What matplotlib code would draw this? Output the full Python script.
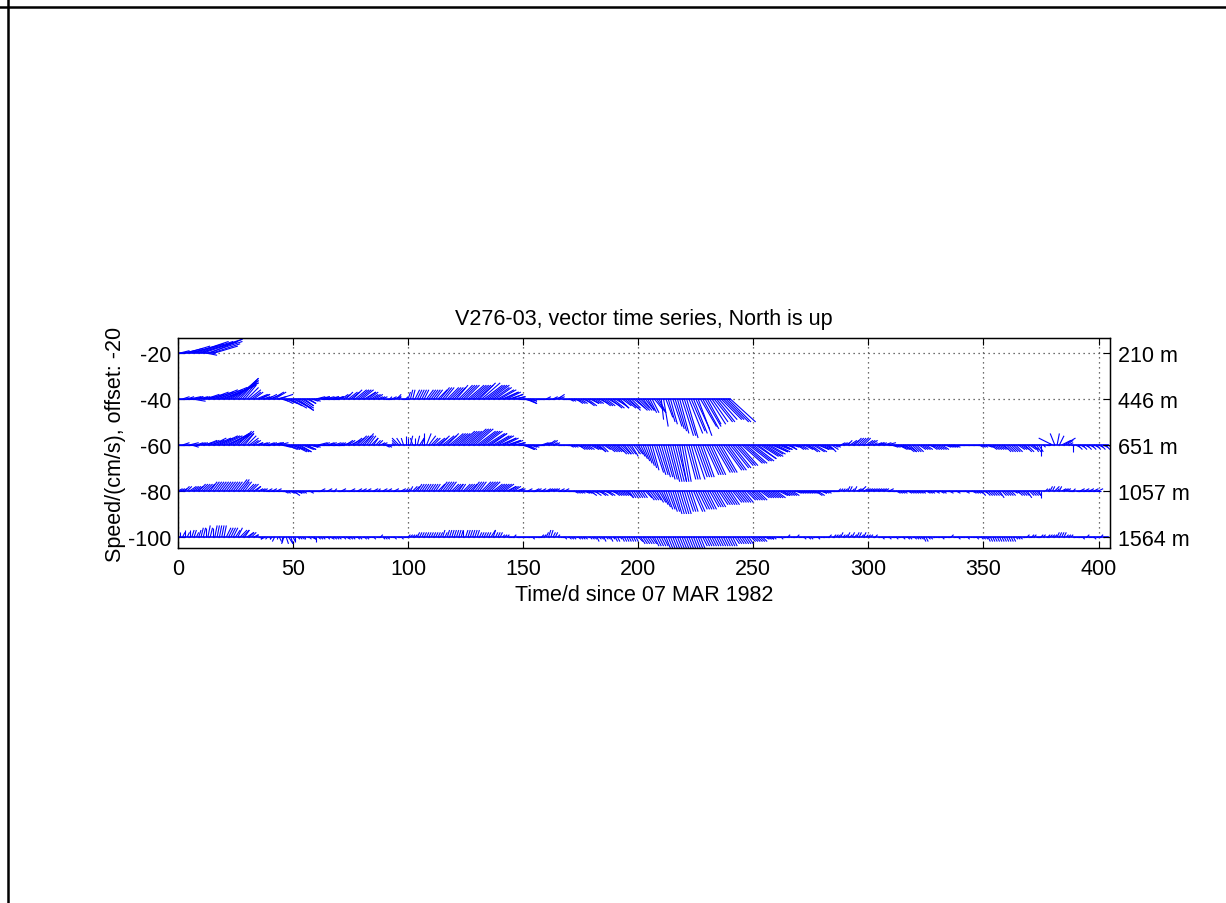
import numpy as np
import matplotlib
matplotlib.use('Agg')
import matplotlib.pyplot as plt
from matplotlib.collections import LineCollection
from matplotlib.lines import Line2D

plt.rcParams['font.family'] = ['Liberation Sans', 'DejaVu Sans']
plt.rcParams['axes.unicode_minus'] = False

# mooring V276-03, daily current vectors (cm/s), east (u) and north (v)
depths = ['210 m', '446 m', '651 m', '1057 m', '1564 m']
offsets = [-20, -40, -60, -80, -100]
xticks = [0, 50, 100, 150, 200, 250, 300, 350, 400]

u_210 = [2, 4, 6, 8, 10, 12, 14, 15, 16, 17,
         18, 15, 5, 15, 14, 12, 10]
v_210 = [0, 1, 1, 2, 3, 3, 4, 5, 5, 5,
         6, 5, -1, 5, 6, 4, 3]

u_446 = [2, 3, 3, 4, 3, 5, 6, 4, 3, 4,
         4, 5, 6, 7, 8, 9, 10, 11, 12, 13,
         14, 14, 13, 12, 11, 10, 9, 7, 6, 5,
         5, 5, 4, 4, 5, 5, 4, 3, 3, 4,
         5, 5, 5, 4, 6, 3, 4, 5, 6, 7,
         8, 8, 7, 6, 5, 4, 4, 3, 3, 3,
         4, 5, 4, 3, 4, 5, 4, 3, 4, 3,
         2, 3, 3, 3, 4, 4, 4, 5, 5, 5,
         5, 5, 4, 4, 3, 3, 3, 2, 2, 2,
         1, 2, 1, 2, 3, 2, 1, 1, 2, 1,
         1, 1, 1, 2, 2, 2, 2, 2, 3, 3,
         3, 3, 3, 4, 4, 4, 4, 5, 5, 5,
         5, 5, 6, 6, 6, 6, 7, 7, 7, 7,
         7, 7, 8, 8, 8, 8, 8, 7, 7, 7,
         7, 7, 6, 6, 6, 5, 5, 4, 4, 4,
         5, 5, 4, 3, 2, 2, 2, 2, 1, 2,
         2, 1, 2, 2, 3, 3, 2, 2, 1, 2,
         2, 2, 3, 3, 3, 3, 4, 4, 4, 4,
         3, 3, 3, 4, 4, 4, 4, 5, 5, 5,
         5, 5, 4, 4, 5, 5, 5, 4, 5, 5,
         5, 4, 4, 4, 3, 3, 3, 4, 4, 3,
         1, 2, 3, 3, 3, 4, 4, 4, 4, 5,
         5, 5, 6, 6, 6, 6, 6, 7, 7, 7,
         6, 7, 7, 8, 8, 8, 9, 9, 10, 10, 11]
v_446 = [0, 0, 1, 0, 1, 1, -1, 1, 1, 1,
         1, 1, 2, 2, 3, 3, 4, 4, 5, 5,
         6, 7, 7, 8, 8, 9, 9, 8, 7, 6,
         5, 4, 3, 3, 2, 2, 2, 1, 1, 2,
         2, 3, 3, 1, 2, -1, -2, -2, -3, -4,
         -4, -5, -5, -4, -3, -3, -2, -2, -1, -1,
         1, 1, 0, 1, 1, 1, 0, 1, 1, 1,
         1, 2, 2, 3, 3, 3, 4, 4, 4, 4,
         4, 3, 3, 3, 2, 2, 2, 1, 1, 1,
         0, 0, 1, 1, 1, 2, 1, 0, 0, 1,
         3, 4, 4, 4, 4, 4, 4, 4, 4, 4,
         4, 4, 4, 4, 5, 5, 5, 5, 5, 5,
         5, 6, 6, 6, 6, 6, 6, 6, 6, 6,
         6, 7, 7, 6, 6, 6, 6, 5, 5, 4,
         4, 3, 3, 3, 2, 2, 1, 1, 0, 0,
         -1, -2, -2, -1, -1, 0, 0, 0, 0, 0,
         1, 0, 0, 1, 1, 2, 1, 0, 0, 0,
         -1, -1, -1, -2, -2, -2, -2, -3, -3, -2,
         -2, -2, -2, -2, -3, -3, -3, -3, -4, -4,
         -3, -4, -4, -3, -4, -4, -5, -4, -4, -5,
         -5, -4, -5, -5, -5, -6, -6, -5, -6, -6,
         -9, -12, -8, -10, -11, -12, -13, -14, -15, -16,
         -16, -17, -15, -14, -15, -13, -16, -12, -13, -12,
         -11, -11, -10, -10, -10, -9, -9, -9, -10, -10, -10]

u_651 = [2, 3, 3, 2, 3, 4, 3, 2, 3, 3,
         3, 4, 5, 5, 6, 6, 7, 7, 8, 8,
         8, 9, 9, 8, 8, 7, 6, 6, 5, 4,
         4, 4, 3, 3, 3, 2, 3, 3, 2, 3,
         3, 4, 4, 3, 4, 4, 4, 5, 5, 6,
         6, 6, 6, 5, 5, 5, 4, 4, 3, 3,
         3, 4, 3, 3, 4, 3, 3, 4, 3, 3,
         2, 2, 3, 3, 3, 4, 4, 4, 4, 4,
         4, 4, 3, 3, 3, 2, 2, 2, 2, 2,
         2, 2, 1, 0, -1, -2, -3, -2, -1, 0,
         0, 1, -1, 0, 1, 2, 1, 0, 2, 3,
         3, 3, 4, 4, 4, 5, 5, 5, 6, 6,
         6, 6, 7, 7, 7, 7, 8, 8, 8, 8,
         8, 8, 8, 8, 8, 8, 7, 7, 7, 7,
         7, 6, 6, 6, 5, 5, 5, 4, 4, 5,
         5, 4, 4, 3, 3, 2, 2, 2, 3, 3,
         3, 3, 3, 2, 2, 2, 1, 1, 2, 2,
         2, 2, 2, 3, 3, 3, 3, 3, 3, 4,
         4, 4, 4, 3, 3, 3, 4, 4, 4, 4,
         4, 4, 4, 4, 3, 3, 3, 3, 3, 3,
         3, 3, 3, 3, 3, 3, 3, 4, 4, 4,
         4, 4, 4, 4, 4, 4, 4, 4, 3, 3,
         3, 4, 4, 4, 5, 5, 5, 5, 5, 6,
         6, 6, 6, 7, 7, 7, 7, 8, 8, 8,
         8, 8, 8, 8, 8, 9, 9, 9, 9, 9,
         9, 9, 8, 8, 8, 8, 7, 7, 7, 6,
         6, 5, 5, 4, 4, 4, 3, 3, 3, 3,
         3, 3, 4, 4, 4, 4, 5, 5, 5, 4,
         4, 4, 3, 3, 3, 2, 2, 1, 2, 2,
         2, 2, 3, 3, 3, 3, 3, 3, 3, 3,
         3, 3, 2, 3, 3, 2, 2, 3, 4, 3,
         3, 3, 4, 4, 4, 4, 4, 4, 3, 3,
         3, 3, 3, 3, 3, 3, 3, 3, 3, 3,
         3, 3, 3, 3, 3, 3, 3, 3, 2, 2,
         2, 2, 2, 2, 2, 2, 2, 2, 2, 2,
         2, 3, 3, 3, 3, 3, 3, 3, 3, 3,
         3, 3, 3, 3, 3, 3, 3, 3, 3, 3,
         3, 3, 2, 2, 2, 0, 1, 1, 1, 0,
         -6, -2, 1, 2, 4, 5, 3, 2, 1, 0,
         2, 2, 2, 2, 2, 2, 2, 2, 2, 2,
         2, 2, 2, 2, 2]
v_651 = [0, 0, 1, 0, 0, 1, -1, 0, 1, 1,
         1, 1, 2, 2, 2, 3, 3, 3, 4, 4,
         4, 4, 5, 5, 5, 5, 6, 6, 5, 5,
         4, 3, 2, 2, 1, 1, 1, 1, 0, 1,
         1, 1, 1, 1, 1, -1, -1, -2, -2, -2,
         -3, -3, -3, -3, -2, -2, -2, -1, -1, -1,
         0, 1, 0, 1, 0, 1, 1, 0, 1, 0,
         1, 1, 1, 2, 2, 2, 3, 3, 4, 4,
         4, 5, 4, 4, 3, 3, 2, 2, 1, 1,
         -1, -1, 0, 0, 1, 2, 3, 3, 3, 4,
         3, 4, 3, 3, 4, 3, 3, 5, 5, 4,
         3, 3, 3, 3, 4, 4, 4, 5, 5, 5,
         5, 5, 6, 6, 6, 6, 7, 7, 7, 7,
         6, 6, 6, 6, 5, 5, 5, 4, 4, 4,
         3, 3, 3, 2, 2, 2, 1, 1, 0, -1,
         -2, -2, -2, -1, -1, 0, 0, 0, 1, 1,
         1, 2, 2, 1, 1, 0, 0, 0, 0, 0,
         -1, -1, -1, -1, -2, -2, -2, -2, -2, -2,
         -2, -2, -3, -3, -3, -2, -3, -3, -3, -3,
         -3, -4, -4, -4, -4, -4, -4, -5, -4, -4,
         -5, -6, -7, -8, -9, -10, -11, -12, -13, -13,
         -14, -14, -15, -15, -16, -16, -16, -16, -16, -16,
         -16, -15, -15, -15, -15, -14, -14, -14, -14, -13,
         -13, -13, -13, -12, -12, -12, -12, -11, -11, -11,
         -10, -10, -9, -9, -9, -8, -8, -8, -7, -7,
         -7, -6, -6, -5, -5, -5, -4, -4, -3, -3,
         -3, -2, -2, -2, -1, -2, -2, -1, -1, -2,
         -2, -2, -2, -2, -3, -3, -3, -3, -2, -2,
         -2, -2, -2, -3, -2, -1, -1, 0, 1, 1,
         1, 2, 2, 2, 3, 3, 3, 3, 3, 2,
         2, 2, 1, 1, 1, 1, 1, 1, 1, 0,
         -1, -1, -1, -2, -2, -2, -3, -3, -3, -3,
         -3, -3, -2, -2, -2, -2, -1, -2, -2, -2,
         -2, -2, -2, -1, -1, -1, -1, -1, 0, 0,
         0, 0, 0, 0, 0, 0, 0, 0, -1, -1,
         -1, -1, -1, -2, -2, -2, -2, -2, -2, -3,
         -3, -3, -3, -3, -3, -2, -2, -2, -3, -3,
         -2, -2, -3, -3, -3, -5, -1, 0, 0, 1,
         3, 5, 5, 4, 2, 3, 2, 1, 0, -3,
         -1, -2, -1, -2, -1, -2, -1, -2, -1, -2,
         -1, -2, -1, -2, -1]

u_1057 = [2, 2, 2, 2, 2, 3, 3, 3, 3, 3,
          3, 3, 3, 3, 3, 3, 3, 3, 3, 3,
          3, 3, 3, 3, 3, 3, 4, 4, 3, 3,
          3, 3, 3, 3, 2, 2, 2, 2, 2, 2,
          2, 2, 2, 2, 2, 2, 2, 2, 3, 3,
          3, 3, 2, 2, 2, 2, 2, 2, 2, 2,
          2, 2, 2, 1, 1, 2, 2, 1, 1, 2,
          2, 2, 1, 1, 2, 2, 1, 2, 2, 2,
          2, 2, 2, 1, 2, 2, 2, 1, 2, 2,
          2, 2, 1, 2, 2, 1, 2, 2, 2, 1,
          1, 1, 2, 2, 2, 2, 2, 2, 2, 2,
          2, 2, 2, 3, 3, 3, 3, 3, 3, 3,
          3, 3, 2, 2, 3, 3, 3, 3, 3, 3,
          3, 3, 4, 4, 4, 4, 4, 4, 4, 4,
          4, 4, 4, 4, 3, 3, 3, 3, 2, 2,
          2, 2, 2, 2, 2, 2, 2, 2, 2, 2,
          2, 2, 2, 2, 2, 2, 2, 2, 2, 2,
          2, 2, 2, 2, 2, 2, 3, 3, 3, 3,
          3, 3, 3, 3, 3, 3, 3, 3, 3, 3,
          3, 3, 3, 3, 3, 3, 2, 2, 2, 2,
          2, 2, 2, 3, 3, 3, 3, 3, 3, 3,
          3, 3, 3, 3, 3, 3, 3, 3, 3, 3,
          3, 3, 3, 3, 4, 4, 4, 4, 4, 4,
          4, 4, 4, 4, 4, 4, 4, 4, 4, 4,
          4, 4, 4, 4, 4, 4, 4, 4, 4, 4,
          4, 4, 4, 4, 4, 4, 4, 4, 4, 4,
          4, 4, 4, 3, 3, 3, 3, 3, 3, 3,
          3, 3, 3, 3, 3, 3, 3, 3, 3, 3,
          2, 2, 2, 2, 2, 2, 1, 1, 1, 1,
          1, 1, 1, 1, 1, 2, 2, 2, 2, 2,
          2, 2, 2, 2, 2, 2, 2, 2, 2, 2,
          2, 2, 2, 2, 2, 2, 2, 2, 2, 2,
          2, 2, 2, 2, 2, 2, 2, 2, 2, 2,
          2, 2, 2, 2, 2, 2, 2, 2, 2, 2,
          2, 2, 2, 2, 2, 2, 2, 2, 2, 2,
          2, 2, 2, 2, 2, 2, 2, 2, 2, 2,
          2, 2, 2, 2, 2, 2, 2, 2, 2, 2,
          2, 2, 2, 2, 1, 0, 0, 1, 1, 1,
          1, 2, 1, 1, 2, 2, 2, 2, 1, 1,
          2, 2, 2, 2, 2, 2, 2, 2, 2, 2,
          2]
v_1057 = [1, 1, 1, 2, 2, 2, 2, 2, 2, 3,
          3, 3, 3, 3, 4, 4, 4, 4, 4, 4,
          4, 4, 4, 4, 4, 4, 5, 5, 4, 4,
          3, 3, 3, 2, 2, 1, 1, 1, 0, 1,
          0, 1, 0, 1, 0, 0, -1, -1, -1, -1,
          -2, -1, -1, -1, -1, 0, 0, -1, 0, 0,
          0, 0, 1, 0, 0, 1, 0, 0, 1, 0,
          0, 1, 0, 0, 0, 1, 0, 0, 1, 0,
          1, 0, 1, 0, 0, 1, 0, 1, 0, 1,
          0, 1, 0, 0, 1, 0, 0, 1, 0, 1,
          1, 2, 2, 2, 3, 3, 3, 3, 3, 3,
          3, 3, 3, 3, 4, 4, 4, 4, 4, 3,
          3, 3, 3, 3, 3, 3, 3, 3, 4, 4,
          4, 4, 4, 4, 4, 4, 4, 3, 3, 3,
          3, 3, 3, 2, 2, 2, 2, 1, 1, 1,
          0, 0, 1, 0, 0, 1, 1, 0, 1, 0,
          1, 1, 1, 1, 1, 0, 1, 0, 1, 0,
          0, 0, -1, -1, -1, -1, -1, -1, -1, -2,
          -1, -2, -1, -2, -2, -1, -2, -2, -1, -2,
          -2, -2, -2, -2, -2, -3, -3, -3, -3, -3,
          -3, -3, -3, -3, -4, -4, -4, -4, -5, -5,
          -6, -7, -8, -8, -9, -9, -10, -10, -10, -10,
          -10, -9, -9, -9, -9, -9, -8, -8, -8, -8,
          -8, -7, -7, -7, -7, -6, -6, -6, -6, -6,
          -6, -5, -5, -5, -5, -5, -5, -4, -4, -4,
          -4, -4, -4, -3, -3, -3, -3, -3, -3, -3,
          -3, -2, -2, -2, -2, -2, -2, -2, -1, -1,
          -1, -1, -1, -1, -1, -1, -1, -2, -2, -1,
          -1, -1, -1, 0, 0, 0, 0, 1, 1, 1,
          1, 2, 2, 1, 2, 1, 1, 2, 1, 1,
          1, 1, 1, 1, 1, 1, 1, 1, 0, 1,
          0, 0, -1, -1, -1, -1, 0, -1, -1, -1,
          -1, -1, -1, -1, 0, -1, -1, -1, 0, -1,
          0, -1, -1, 0, 0, -1, 0, 0, -1, 0,
          0, 0, -1, 0, 0, -1, -1, -1, -1, -2,
          -1, -2, -2, -2, -2, -2, -2, -3, -2, -2,
          -2, -2, -2, -1, -1, -2, -2, -2, -2, -3,
          -2, -2, -2, -2, -2, -3, 0, 1, 1, 2,
          2, 2, 1, 2, 1, 1, 1, 0, 0, 1,
          0, 0, 1, 0, 1, 0, 1, 0, 1, 0,
          1]

u_1564 = [0, 0, 1, 0, 1, 0, 1, 1, 1, 1,
          1, 1, 0, 1, 1, 0, 1, 1, 1, 1,
          1, 2, 2, 2, 2, 2, 2, 3, 3, 2,
          3, 2, 2, 2, 1, 0, -1, -1, -2, -1,
          0, -1, -1, 0, 1, 0, -1, 1, 2, 1,
          1, 0, 1, 1, 1, 0, 1, 1, 2, 1,
          0, 1, 1, 1, 1, 1, 2, 1, 1, 1,
          1, 1, 1, 2, 1, 1, 1, 1, 1, 1,
          1, 1, 1, 1, 1, 1, 1, 1, 1, 1,
          1, 1, 1, 1, 1, 1, 1, 1, 1, 1,
          1, 1, 1, 1, 1, 1, 1, 1, 1, 1,
          1, 1, 1, 1, 1, 1, 1, 1, 1, 1,
          1, 1, 1, 1, 0, 1, 1, 1, 1, 1,
          1, 1, 1, 1, 1, 1, 2, 1, 1, 1,
          1, 1, 1, 1, 1, 1, 1, 1, 1, 1,
          1, 1, 1, 1, 1, 1, 1, 1, 1, 1,
          1, 1, 1, 1, 1, 1, 1, 1, 1, 1,
          1, 1, 1, 1, 1, 1, 1, 1, 1, 1,
          1, 1, 1, 1, 1, 1, 1, 1, 1, 1,
          1, 1, 1, 1, 1, 1, 1, 1, 1, 1,
          2, 2, 2, 2, 2, 2, 2, 2, 2, 2,
          2, 2, 2, 2, 2, 2, 2, 2, 2, 2,
          2, 2, 2, 2, 2, 2, 2, 2, 2, 2,
          2, 2, 2, 2, 2, 2, 2, 2, 2, 2,
          2, 2, 2, 2, 2, 2, 2, 2, 2, 2,
          2, 2, 2, 2, 2, 2, 2, 2, 1, 1,
          1, 1, 1, 1, 1, 1, 1, 1, 1, 1,
          1, 1, 1, 1, 1, 1, 1, 1, 1, 1,
          1, 1, 1, 1, 1, 1, 1, 1, 1, 1,
          1, 1, 1, 1, 1, 1, 1, 1, 1, 1,
          1, 1, 1, 1, 1, 1, 1, 1, 1, 1,
          1, 1, 1, 1, 1, 1, 1, 1, 1, 1,
          1, 1, 1, 1, 1, 1, 1, 1, 1, 1,
          1, 1, 1, 1, 1, 1, 1, 1, 1, 1,
          1, 1, 1, 1, 1, 1, 1, 1, 1, 1,
          1, 1, 1, 1, 1, 1, 1, 1, 1, 1,
          1, 1, 1, 1, 1, 1, 1, 1, 1, 1,
          1, 1, 1, 1, 1, 1, 1, 1, 1, 1,
          1, 1, 1, 1, 1, 1, 1, 1, 1, 1,
          1, 1, 1, 1, 1, 1, 1, 1, 1, 1,
          1, 1, 1, 1, 1]
v_1564 = [1, 2, 2, 3, 2, 3, 3, 3, 2, 3,
          4, 4, 4, 5, 4, 4, 5, 5, 5, 5,
          5, 4, 4, 4, 4, 3, 4, 3, 3, 3,
          2, 2, 2, 1, 1, 0, 0, -1, -1, -1,
          -1, -1, -2, -1, -2, -2, -3, -3, -3, -3,
          -2, -2, -1, -1, -1, -1, 0, -1, -1, -1,
          -2, -1, -1, -1, 0, -1, -1, 0, -1, -1,
          -1, 0, -1, -1, 0, -1, -1, 0, -1, -1,
          0, -1, -1, 0, 0, -1, 0, 0, 1, -1,
          -1, -1, 0, 0, -1, 0, 0, -1, 0, 0,
          1, 1, 1, 1, 2, 2, 2, 2, 2, 2,
          2, 2, 2, 2, 2, 3, 2, 3, 3, 3,
          3, 3, 3, 3, 3, 3, 3, 3, 3, 3,
          3, 2, 2, 2, 2, 2, 3, 3, 2, 2,
          2, 1, 1, 1, 0, 0, 1, 0, 0, 0,
          0, 0, 0, 0, -1, 0, 0, 0, 1, 1,
          2, 3, 3, 2, 2, 1, 0, 0, -1, 0,
          -1, -1, -1, 0, -1, -1, -1, -1, 0, -1,
          -1, -1, -2, -1, -1, -2, -1, -1, -2, -1,
          -2, -2, -1, -2, -2, -2, -2, -2, -2, -2,
          -2, -3, -3, -3, -3, -3, -3, -4, -4, -4,
          -4, -4, -5, -5, -5, -5, -5, -5, -5, -5,
          -5, -5, -5, -5, -5, -5, -5, -5, -4, -4,
          -4, -4, -4, -4, -4, -4, -4, -4, -4, -4,
          -4, -4, -3, -3, -3, -3, -3, -3, -3, -2,
          -2, -2, -2, -2, -2, -1, -1, -1, -1, -1,
          0, 0, -1, 0, 0, 1, 0, 0, 0, 1,
          0, 0, -1, 0, -1, -1, 0, 0, -1, 0,
          0, 0, 0, 1, 0, 1, 1, 1, 2, 1,
          1, 2, 1, 2, 1, 2, 2, 1, 2, 1,
          1, 1, 0, 1, 0, 0, -1, 0, 0, -1,
          0, 0, -1, 0, 0, -1, 0, -1, -1, 0,
          -1, -1, -1, -1, -2, -2, -1, -1, 0, 0,
          0, 0, -1, 0, 0, 0, 1, 0, 0, -1,
          0, 0, 0, -1, 0, 0, 0, -1, 0, -1,
          -1, -1, -2, -2, -2, -2, -2, -2, -2, -2,
          -2, -2, -2, -2, -1, -1, -1, 0, 0, 1,
          0, 1, 1, 0, 0, 1, 1, 0, 1, 1,
          1, 1, 2, 2, 2, 2, 1, 1, 1, 0,
          0, 0, 0, -1, 0, 1, 0, 0, -1, 0,
          0, 1, 0, 0, 0]

series_u = [u_210, u_446, u_651, u_1057, u_1564]
series_v = [v_210, v_446, v_651, v_1057, v_1564]

FS = 15.5

fig = plt.figure(figsize=(12.26, 9.04), dpi=100)
ax = fig.add_axes([0.1452, 0.3927, 0.7602, 0.2323])

for u, v, off in zip(series_u, series_v, offsets):
    t = np.arange(len(u))
    segs = [[(ti, off), (ti + ui, off + vi)] for ti, ui, vi in zip(t, u, v)]
    ax.add_collection(LineCollection(segs, colors='blue', linewidths=0.8))
    ax.plot([t[0], t[-1]], [off, off], color='blue', lw=1.2)

ax.set_xlim(0, 405)
ax.set_ylim(-104.8, -13.5)
ax.set_xticks(xticks)
ax.set_yticks(offsets)
ax.grid(True, color='0.25', linestyle=(0, (1, 3)), linewidth=0.9)
ax.tick_params(axis='x', direction='in', top=True, length=5,
               labelsize=FS, pad=7)
ax.tick_params(axis='y', direction='in', right=False, length=5,
               labelsize=FS, pad=5)
for s in ax.spines.values():
    s.set_linewidth(1.0)

ax2 = ax.twinx()
ax2.set_ylim(ax.get_ylim())
ax2.set_yticks(offsets)
ax2.set_yticklabels(depths)
ax2.tick_params(direction='in', length=5, labelsize=FS, pad=6)

ax.set_title('V276-03, vector time series, North is up', fontsize=FS, pad=10)
ax.set_xlabel('Time/d since 07 MAR 1982', fontsize=FS, labelpad=4)
ax.set_ylabel('Speed/(cm/s), offset: -20', fontsize=FS, labelpad=1)

# frame lines along the top and left edge of the page
fig.add_artist(Line2D([0.0069, 0.0069], [0, 1], color='black', lw=1.8))
fig.add_artist(Line2D([0, 1], [0.9906, 0.9906], color='black', lw=1.8))

fig.savefig('out.png', dpi=100)
